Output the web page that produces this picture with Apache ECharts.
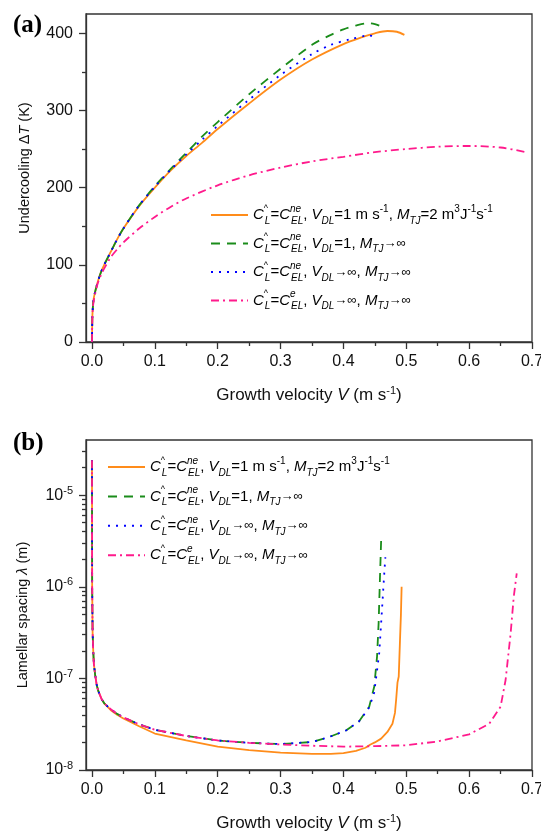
<!DOCTYPE html>
<html><head><meta charset="utf-8">
<script src="https://cdn.jsdelivr.net/npm/echarts@6/dist/echarts.min.js"></script>
<style>html,body{margin:0;padding:0;background:#fff}#c{width:541px;height:831px}</style>
</head><body><div id="c"></div>
<script>
// ---------- series names ----------
const seriesNames = [
  'C^L=CneEL, VDL=1 m s-1, MTJ=2 m3J-1s-1',
  'C^L=CneEL, VDL=1, MTJ->inf',
  'C^L=CneEL, VDL->inf, MTJ->inf',
  'C^L=CeEL, VDL->inf, MTJ->inf'
];
const seriesColors = ['#FF8C1A', '#1A8C1A', '#0000FF', '#FF1A8C'];

// ---------- panel (a): undercooling vs growth velocity ----------
const aVorange = [0, 0.0005, 0.001, 0.0025, 0.005, 0.0075, 0.01, 0.015, 0.02, 0.03, 0.04, 0.05, 0.075, 0.1, 0.125, 0.15, 0.175, 0.2, 0.25, 0.3, 0.35, 0.4, 0.43, 0.45, 0.47, 0.485, 0.497];
const aTorange = [0, 28, 40, 55, 65, 73, 80, 92, 101, 117, 133, 147, 176, 200, 222, 241, 258, 276, 309, 340, 366, 386, 395, 400, 403, 402, 398];
const aVgreen = [0, 0.0005, 0.001, 0.0025, 0.005, 0.0075, 0.01, 0.015, 0.02, 0.03, 0.04, 0.05, 0.075, 0.1, 0.125, 0.15, 0.175, 0.2, 0.25, 0.3, 0.35, 0.38, 0.4, 0.42, 0.44, 0.45, 0.457];
const aTgreen = [0, 28, 40, 55, 65, 73, 80, 92, 101, 117, 133, 147, 177, 202, 224, 245, 266, 285, 321, 354, 385, 398, 405, 410, 413, 412, 410];
const aVblue = [0, 0.0005, 0.001, 0.0025, 0.005, 0.0075, 0.01, 0.015, 0.02, 0.03, 0.04, 0.05, 0.075, 0.1, 0.125, 0.15, 0.175, 0.2, 0.25, 0.3, 0.35, 0.38, 0.41, 0.44, 0.455];
const aTblue = [0, 28, 40, 55, 65, 73, 80, 92, 101, 117, 133, 147, 177, 201, 223, 243, 262, 280, 314, 346, 373, 385, 392, 397, 395];
const aVpink = [0, 0.0005, 0.001, 0.0025, 0.005, 0.0075, 0.01, 0.015, 0.02, 0.03, 0.04, 0.05, 0.075, 0.1, 0.125, 0.15, 0.2, 0.25, 0.3, 0.35, 0.4, 0.45, 0.5, 0.55, 0.6, 0.65, 0.69];
const aTpink = [0, 28, 39, 52, 62, 71, 78, 88, 96, 110, 120, 129, 147, 162, 175, 186, 203, 216, 226, 234, 240, 246, 250, 253, 254, 252, 246];

// ---------- panel (b): lamellar spacing vs growth velocity ----------
const bVorange = [0, 0.0003, 0.001, 0.002, 0.003, 0.005, 0.0075, 0.01, 0.015, 0.02, 0.03, 0.04, 0.05, 0.075, 0.1, 0.15, 0.2, 0.25, 0.3, 0.35, 0.38, 0.4, 0.42, 0.435, 0.443, 0.45, 0.46, 0.47, 0.478, 0.482, 0.484, 0.486, 0.488, 0.49, 0.4915, 0.4926];
const bLorange = [2.4e-5, 1e-6, 3.2e-7, 2e-7, 1.45e-7, 1.1e-7, 8.5e-8, 7.3e-8, 6e-8, 5.3e-8, 4.5e-8, 4e-8, 3.65e-8, 3e-8, 2.5e-8, 2.1e-8, 1.8e-8, 1.65e-8, 1.55e-8, 1.5e-8, 1.5e-8, 1.53e-8, 1.62e-8, 1.75e-8, 1.9e-8, 2e-8, 2.2e-8, 2.6e-8, 3.2e-8, 4.2e-8, 6e-8, 9e-8, 1.05e-7, 2.6e-7, 5e-7, 1e-6];
const bVgreen = [0, 0.0003, 0.001, 0.002, 0.003, 0.005, 0.0075, 0.01, 0.015, 0.02, 0.03, 0.04, 0.05, 0.075, 0.1, 0.15, 0.2, 0.25, 0.3, 0.35, 0.378, 0.404, 0.425, 0.441, 0.449, 0.4535, 0.456, 0.458, 0.46];
const bLgreen = [2.4e-5, 1e-6, 3.2e-7, 2e-7, 1.45e-7, 1.1e-7, 8.5e-8, 7.3e-8, 6e-8, 5.3e-8, 4.6e-8, 4.1e-8, 3.75e-8, 3.15e-8, 2.75e-8, 2.35e-8, 2.1e-8, 1.98e-8, 1.92e-8, 2.02e-8, 2.3e-8, 2.7e-8, 3.4e-8, 4.9e-8, 8.1e-8, 1.73e-7, 4e-7, 1.17e-6, 3.2e-6];
const bVblue = [0, 0.0003, 0.001, 0.002, 0.003, 0.005, 0.0075, 0.01, 0.015, 0.02, 0.03, 0.04, 0.05, 0.075, 0.1, 0.15, 0.2, 0.25, 0.3, 0.35, 0.378, 0.404, 0.425, 0.441, 0.449, 0.454, 0.457, 0.46, 0.462, 0.464, 0.4667];
const bLblue = [2.4e-5, 1e-6, 3.2e-7, 2e-7, 1.45e-7, 1.1e-7, 8.5e-8, 7.3e-8, 6e-8, 5.3e-8, 4.6e-8, 4.1e-8, 3.75e-8, 3.15e-8, 2.75e-8, 2.35e-8, 2.1e-8, 1.98e-8, 1.92e-8, 2.02e-8, 2.3e-8, 2.7e-8, 3.4e-8, 4.8e-8, 7e-8, 1.3e-7, 1.9e-7, 4e-7, 6.6e-7, 1.1e-6, 2.1e-6];
const bVpink = [0, 0.0003, 0.001, 0.002, 0.003, 0.005, 0.0075, 0.01, 0.015, 0.02, 0.03, 0.04, 0.05, 0.075, 0.1, 0.15, 0.2, 0.25, 0.3, 0.35, 0.4, 0.45, 0.5, 0.55, 0.6, 0.632, 0.65, 0.658, 0.666, 0.671, 0.6757];
const bLpink = [2.4e-5, 1e-6, 3.2e-7, 2e-7, 1.45e-7, 1.1e-7, 8.5e-8, 7.3e-8, 6e-8, 5.3e-8, 4.6e-8, 4.1e-8, 3.75e-8, 3.15e-8, 2.75e-8, 2.35e-8, 2.1e-8, 1.98e-8, 1.9e-8, 1.84e-8, 1.8e-8, 1.82e-8, 1.86e-8, 2.05e-8, 2.45e-8, 3.2e-8, 4.9e-8, 9.6e-8, 3.1e-7, 7.8e-7, 1.4e-6];

// ---------- tick values ----------
const xTicks = [0, 0.1, 0.2, 0.3, 0.4, 0.5, 0.6, 0.7];
const xMinorTicks = [0.05, 0.15, 0.25, 0.35, 0.45, 0.55, 0.65];
const aYTicks = [0, 100, 200, 300, 400];
const aYMinorTicks = [50, 150, 250, 350];
const bYTicks = [1e-8, 1e-7, 1e-6, 1e-5];
const bYMinorTicks = [2e-8,3e-8,4e-8,5e-8,6e-8,7e-8,8e-8,9e-8, 2e-7,3e-7,4e-7,5e-7,6e-7,7e-7,8e-7,9e-7, 2e-6,3e-6,4e-6,5e-6,6e-6,7e-6,8e-6,9e-6, 2e-5,3e-5];

// ---------- styling ----------
const FONT = 'Liberation Sans';
const AX = '#333';
const dashes = ['solid', [9, 7], [2, 6], [8, 4, 2, 4]];
const zip = (xs, ys) => xs.map((x, i) => [x, ys[i]]);

const legendRich = {
  n: {fontSize: 15, fontFamily: FONT, lineHeight: 22, color: '#000'},
  i: {fontSize: 15, fontFamily: FONT, fontStyle: 'italic', lineHeight: 22, color: '#000'},
  h: {fontSize: 9, fontFamily: FONT, lineHeight: 10, verticalAlign: 'top', width: 1, color: '#000'},
  p: {fontSize: 10, fontFamily: FONT, fontStyle: 'italic', lineHeight: 10, verticalAlign: 'top', width: 1, color: '#000'},
  b: {fontSize: 10, fontFamily: FONT, fontStyle: 'italic', lineHeight: 12, verticalAlign: 'bottom', color: '#000'},
  u: {fontSize: 10, fontFamily: FONT, lineHeight: 10, verticalAlign: 'top', color: '#000'},
  a: {fontSize: 13, fontFamily: FONT, lineHeight: 22, color: '#000'}
};
const legendText = {};
legendText[seriesNames[0]] = '{i|C}{h|^}{b|L}{n|=}{i|C}{p|ne}{b|EL}{n|, }{i|V}{b|DL}{n|=1 m s}{u|-1}{n|, }{i|M}{b|TJ}{n|=2 m}{u|3}{n|J}{u|-1}{n|s}{u|-1}';
legendText[seriesNames[1]] = '{i|C}{h|^}{b|L}{n|=}{i|C}{p|ne}{b|EL}{n|, }{i|V}{b|DL}{n|=1, }{i|M}{b|TJ}{a|→∞}';
legendText[seriesNames[2]] = '{i|C}{h|^}{b|L}{n|=}{i|C}{p|ne}{b|EL}{n|, }{i|V}{b|DL}{a|→∞}{n|, }{i|M}{b|TJ}{a|→∞}';
legendText[seriesNames[3]] = '{i|C}{h|^}{b|L}{n|=}{i|C}{p|e}{b|EL}{n|, }{i|V}{b|DL}{a|→∞}{n|, }{i|M}{b|TJ}{a|→∞}';

function nameStyle(size) {
  return {
    fontSize: size, fontFamily: FONT, color: '#111', lineHeight: 20,
    rich: {
      i: {fontSize: size, fontFamily: FONT, fontStyle: 'italic', color: '#111', lineHeight: 20},
      s: {fontSize: 11, fontFamily: FONT, color: '#111', lineHeight: 11, verticalAlign: 'top'}
    }
  };
}

function mainX(gridIndex) {
  return {
    type: 'value', gridIndex, min: -0.0095, max: 0.7, position: 'bottom',
    name: 'Growth velocity {i|V} (m s{s|-1})', nameLocation: 'middle', nameGap: 43,
    nameTextStyle: nameStyle(17),
    axisLine: {show: true, onZero: false, lineStyle: {color: AX, width: 1.3}},
    axisTick: {show: true, length: 7, customValues: xTicks, lineStyle: {color: AX, width: 1.3}},
    axisLabel: {show: true, customValues: xTicks, margin: 12, fontSize: 16, fontFamily: FONT, color: '#111',
      formatter: v => v.toFixed(1)},
    splitLine: {show: false}
  };
}
function minorX(gridIndex) {
  return {
    type: 'value', gridIndex, min: -0.0095, max: 0.7, position: 'bottom',
    axisLine: {show: false, onZero: false},
    axisTick: {show: true, length: 4, customValues: xMinorTicks, lineStyle: {color: AX, width: 1.3}},
    axisLabel: {show: false}, splitLine: {show: false}
  };
}

const legendCommon = {
  orient: 'vertical', padding: 0, itemWidth: 37, itemHeight: 14,
  selectedMode: false, data: seriesNames, formatter: n => legendText[n],
  itemStyle: {opacity: 0, borderWidth: 0},
  textStyle: {fontSize: 15, fontFamily: FONT, color: '#000', rich: legendRich}
};

const option = {
  animation: false,
  backgroundColor: '#fff',
  title: [
    {text: '(a)', left: 13, top: 13, padding: 0, textStyle: {fontFamily: 'Liberation Serif', fontWeight: 'bold', fontSize: 25, color: '#000'}},
    {text: '(b)', left: 13, top: 431, padding: 0, textStyle: {fontFamily: 'Liberation Serif', fontWeight: 'bold', fontSize: 25, color: '#000'}}
  ],
  grid: [
    {left: 86, top: 14, width: 446, height: 328, show: true, borderColor: AX, borderWidth: 1.3, backgroundColor: 'transparent', outerBoundsMode: 'none', containLabel: false},
    {left: 86, top: 440, width: 446, height: 330, show: true, borderColor: AX, borderWidth: 1.3, backgroundColor: 'transparent', outerBoundsMode: 'none', containLabel: false}
  ],
  legend: [
    Object.assign({}, legendCommon, {left: 210, top: 204, itemGap: 6.5}),
    Object.assign({}, legendCommon, {left: 107, top: 456, itemGap: 7.4})
  ],
  xAxis: [mainX(0), minorX(0), mainX(1), minorX(1)],
  yAxis: [
    {type: 'value', gridIndex: 0, min: 0, max: 425, position: 'left',
      name: 'Undercooling Δ{i|T} (K)', nameLocation: 'middle', nameGap: 48,
      nameTextStyle: Object.assign(nameStyle(14.5), {padding: [0, 0, 0, 20]}),
      axisLine: {show: true, onZero: false, lineStyle: {color: AX, width: 1.3}},
      axisTick: {show: true, length: 7, customValues: aYTicks, lineStyle: {color: AX, width: 1.3}},
      axisLabel: {show: true, customValues: aYTicks, margin: 13, fontSize: 16, fontFamily: FONT, color: '#111'},
      splitLine: {show: false}},
    {type: 'value', gridIndex: 0, min: 0, max: 425, position: 'left',
      axisLine: {show: false, onZero: false},
      axisTick: {show: true, length: 4, customValues: aYMinorTicks, lineStyle: {color: AX, width: 1.3}},
      axisLabel: {show: false}, splitLine: {show: false}},
    {type: 'log', logBase: 10, gridIndex: 1, min: 1e-8, max: 4e-5, position: 'left',
      name: 'Lamellar spacing {i|λ} (m)', nameLocation: 'middle', nameGap: 53,
      nameTextStyle: Object.assign(nameStyle(14.5), {padding: [0, 20, 0, 0]}),
      axisLine: {show: true, onZero: false, lineStyle: {color: AX, width: 1.3}},
      axisTick: {show: true, length: 7, customValues: bYTicks, lineStyle: {color: AX, width: 1.3}},
      axisLabel: {show: true, customValues: bYTicks, margin: 13, fontSize: 16, fontFamily: FONT, color: '#111',
        formatter: v => '{m|10}{s|' + Math.round(Math.log10(v)) + '}',
        rich: {m: {fontSize: 16, fontFamily: FONT, color: '#111', lineHeight: 20},
               s: {fontSize: 11, fontFamily: FONT, color: '#111', lineHeight: 11, verticalAlign: 'top'}}},
      splitLine: {show: false}},
    {type: 'log', logBase: 10, gridIndex: 1, min: 1e-8, max: 4e-5, position: 'left',
      axisLine: {show: false, onZero: false},
      axisTick: {show: true, length: 4, customValues: bYMinorTicks, lineStyle: {color: AX, width: 1.3}},
      axisLabel: {show: false}, splitLine: {show: false}}
  ],
  series: []
};

const aData = [zip(aVorange, aTorange), zip(aVgreen, aTgreen), zip(aVblue, aTblue), zip(aVpink, aTpink)];
const bData = [zip(bVorange, bLorange), zip(bVgreen, bLgreen), zip(bVblue, bLblue), zip(bVpink, bLpink)];
for (let k = 0; k < 4; k++) {
  option.series.push({
    name: seriesNames[k], type: 'line', xAxisIndex: 0, yAxisIndex: 0, data: aData[k],
    symbol: 'none', showSymbol: false, smooth: 0.3, color: seriesColors[k],
    lineStyle: {color: seriesColors[k], width: 1.8, type: dashes[k]}
  });
}
for (let k = 0; k < 4; k++) {
  option.series.push({
    name: seriesNames[k], type: 'line', xAxisIndex: 2, yAxisIndex: 2, data: bData[k],
    symbol: 'none', showSymbol: false, smooth: false, color: seriesColors[k],
    lineStyle: {color: seriesColors[k], width: 1.8, type: dashes[k]}
  });
}

const chart = echarts.init(document.getElementById('c'), null, {renderer: 'canvas'});
chart.setOption(option);
</script>
</body></html>
